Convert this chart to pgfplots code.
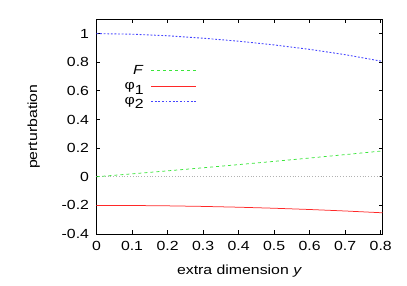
\documentclass[border=0pt]{standalone}
\usepackage{fontspec}
\setmainfont{Liberation Sans}[FakeStretch=1.2]
\usepackage{pgfplots}
\pgfplotsset{compat=1.18}
\newcommand{\fnt}{\fontsize{13.2}{15}\selectfont}
\newcommand{\sub}[1]{\lower0.36em\hbox{#1}}
\definecolor{fgreen}{RGB}{60,230,60}
\definecolor{fblue}{RGB}{70,70,255}
\definecolor{fred}{RGB}{255,40,40}
\begin{document}
\begin{tikzpicture}[x=1pt,y=1pt,font=\fnt]
\path[use as bounding box] (-96.5,-51) rectangle (310.5,234);
\begin{axis}[
  at={(0,0)}, anchor=south west,
  scale only axis, width=286pt, height=214.7pt,
  xmin=0, xmax=0.805, ymin=-0.4, ymax=1.1,
  xtick={0,0.1,...,0.8}, ytick={-0.4,-0.2,0,0.2,0.4,0.6,0.8,1},
  xticklabels={0,0.1,0.2,0.3,0.4,0.5,0.6,0.7,0.8},
  yticklabels={-0.4,-0.2,0,0.2,0.4,0.6,0.8,1},
  /pgf/number format/assume math mode=true,
  tick label style={font=\fnt},
  label style={font=\fnt},
  tick align=inside, major tick length=4pt,
  tick style={black, line width=0.8pt},
  axis line style={line width=1pt},
  minor tick num=0,
  xticklabel style={yshift=-4pt},
  yticklabel style={xshift=-4pt},
  xlabel={extra dimension \textit{y}},
  ylabel={perturbation},
  xlabel style={yshift=-7pt},
  ylabel style={yshift=15pt},
  legend plot pos=right,
  legend cell align=right,
  legend style={draw=none, fill=none, at={(axis cs:0.285,0.80)}, anchor=north east,
    row sep=2.2pt, inner sep=1pt, font=\fnt,
    nodes={inner xsep=7pt}},
  legend image code/.code={\draw[#1] (0pt,0pt) -- (45pt,0pt);},
]
\addplot[gray!60, dotted, line width=0.8pt, forget plot] coordinates {(0,0) (0.805,0)};
\addplot[color=fgreen, dashed, line width=0.75pt] coordinates {
(0,0) (0.1,0.0203) (0.2,0.0412) (0.3,0.0627) (0.4,0.0848) (0.5,0.1075) (0.6,0.1308) (0.7,0.1547) (0.805,0.1805)};
\addlegendentry{\textit{F}}
\addplot[color=fred, line width=0.75pt] coordinates {
(0,-0.2) (0.1,-0.2008) (0.2,-0.2032) (0.3,-0.2072) (0.4,-0.2128) (0.5,-0.22) (0.6,-0.2288) (0.7,-0.2392) (0.805,-0.2518)};
\addlegendentry{φ\sub{1}}
\addplot[color=fblue, dash pattern=on 1.8pt off 1.8pt, line width=0.9pt] coordinates {
(0,1) (0.1,0.996) (0.2,0.985) (0.3,0.968) (0.4,0.947) (0.5,0.921) (0.6,0.890) (0.7,0.853) (0.805,0.806)};
\addlegendentry{φ\sub{2}}
\end{axis}
\end{tikzpicture}
\end{document}
